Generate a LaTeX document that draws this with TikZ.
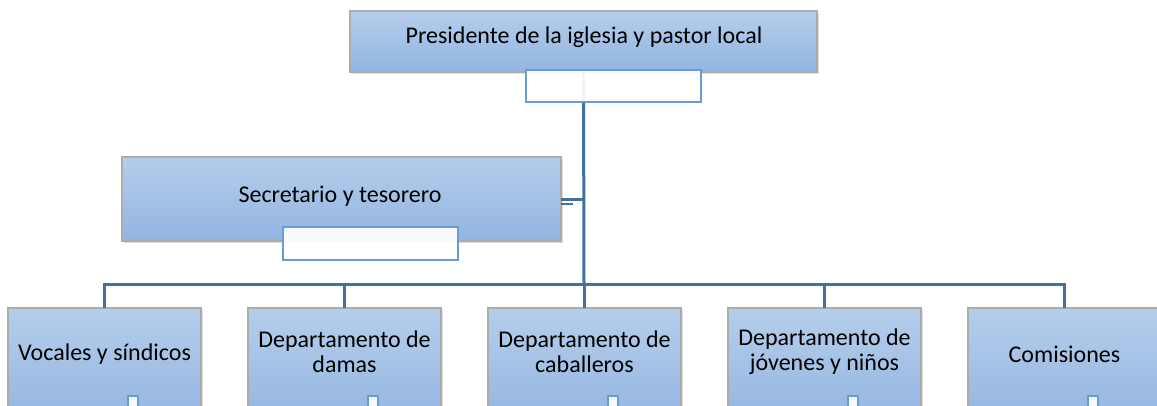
\documentclass[tikz,border=0pt]{standalone}
\usepackage{fontspec}
\setmainfont{Carlito}
\usetikzlibrary{shadows}
\definecolor{boxtop}{RGB}{181,205,235}
\definecolor{boxbot}{RGB}{146,181,225}
\definecolor{wirecol}{RGB}{65,113,160}
\definecolor{tagcol}{RGB}{105,155,212}
\definecolor{rimcol}{RGB}{172,172,172}

\begin{document}
\begin{tikzpicture}[x=1pt,y=-1pt,
    box/.style={draw=rimcol,line width=1.1pt,top color=boxtop,bottom color=boxbot,
      inner sep=0pt,outer sep=0pt,anchor=north west,
      drop shadow={opacity=0.25,shadow xshift=1.5pt,shadow yshift=-1.5pt}},
    tag/.style={draw=tagcol,line width=1.2pt,fill=white,fill opacity=0.93,
      inner sep=0pt,outer sep=0pt,anchor=north west},
    lbl/.style={font=\fontsize{24}{25}\selectfont,align=center,inner sep=0pt},
    wire/.style={draw=wirecol,line width=3pt}]
  \useasboundingbox (0,0) rectangle (1157,405);
  \clip (0,0) rectangle (1157,405);

  % boxes
  \node[box,minimum width=467pt,minimum height=61pt] (p0) at (350,11) {};
  \node[box,minimum width=439pt,minimum height=84pt] (s0) at (122,157) {};
  \node[box,minimum width=193pt,minimum height=120pt] (b0) at (8,308) {};
  \node[box,minimum width=193pt,minimum height=120pt] (b1) at (248,308) {};
  \node[box,minimum width=193pt,minimum height=120pt] (b2) at (488,308) {};
  \node[box,minimum width=193pt,minimum height=120pt] (b3) at (728,308) {};
  \node[box,minimum width=193pt,minimum height=120pt] (b4) at (968,308) {};

  \node[lbl] (t0) at (584,37) {Presidente de la iglesia y pastor local};
  \node[lbl] (t1) at (340,196) {Secretario y tesorero};
  \node[lbl] (t2) at (b0.north |- 0,354) {Vocales y síndicos};
  \node[lbl] (t3) at (b1.north |- 0,352) {Departamento de\\damas};
  \node[lbl] (t4) at (b2.north |- 0,352) {Departamento de\\caballeros};
  \node[lbl] (t5) at (b3.north |- 0,352) {Departamento de\\jóvenes y niños};
  \node[lbl] (t6) at (b4.north |- 0,354) {Comisiones};

  % connectors
  \coordinate (hub) at (584,284);
  \draw[wire] (p0.south) -- (hub);
  \draw[wire] (s0.east) -- (s0.east -| hub);
  \draw[wire,line width=2pt] ([yshift=-5pt]s0.east) -- ++(12,0);
  \draw[wire] (b0.north) -- (b0.north |- hub) -| (b4.north);
  \draw[wire] (b1.north) -- (b1.north |- hub);
  \draw[wire] (b2.north) -- (b2.north |- hub);
  \draw[wire] (b3.north) -- (b3.north |- hub);

  % empty text slots
  \node[tag,minimum width=175pt,minimum height=32pt] (g0) at (526,70) {};
  \node[tag,minimum width=175pt,minimum height=33pt] (g1) at (283,227) {};
  \node[tag,minimum width=10pt,minimum height=30pt] (g2) at ([shift={(120,88)}]b0.north west) {};
  \node[tag,minimum width=10pt,minimum height=30pt] (g3) at ([shift={(120,88)}]b1.north west) {};
  \node[tag,minimum width=10pt,minimum height=30pt] (g4) at ([shift={(120,88)}]b2.north west) {};
  \node[tag,minimum width=10pt,minimum height=30pt] (g5) at ([shift={(120,88)}]b3.north west) {};
  \node[tag,minimum width=10pt,minimum height=30pt] (g6) at ([shift={(120,88)}]b4.north west) {};
\end{tikzpicture}
\end{document}
